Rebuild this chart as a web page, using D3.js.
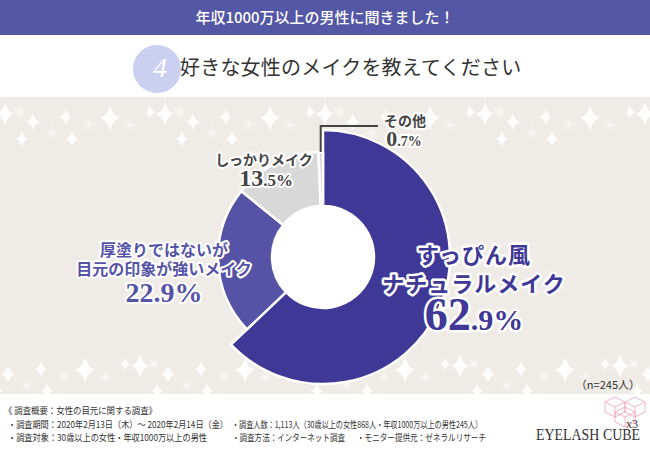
<!DOCTYPE html>
<html><head><meta charset="utf-8">
<script src="https://cdn.jsdelivr.net/npm/d3@7"></script>
<style>
html,body{margin:0;padding:0;background:#fff;}
svg{display:block;font-family:"Noto Sans CJK JP","Noto Sans",sans-serif;}
</style></head><body>
<svg id="chart" width="650" height="450"></svg>
<script>
// ---- data ----
const categories = ["すっぴん風ナチュラルメイク", "厚塗りではないが目元の印象が強いメイク", "しっかりメイク", "その他"];
const values = [62.9, 22.9, 13.5, 0.7];
const sampleNote = "（n=245人）";
const headerTitle = "年収1000万以上の男性に聞きました！";
const questionNo = "4";
const questionText = "好きな女性のメイクを教えてください";
const footerLines = [
  ["《 調査概要：女性の目元に関する調査》"],
  ["・調査期間：2020年2月13日（木）～ 2020年2月14日（金）", "・調査人数：1,113人（30歳以上の女性868人・年収1000万以上の男性245人）"],
  ["・調査対象：30歳以上の女性・年収1000万以上の男性", "・調査方法：インターネット調査", "・モニター提供元：ゼネラルリサーチ"]
];

// ---- styles ----
const colors = ["#3f3896", "#5653a6", "#d8d8d8", "#d8d8d8"];
const outerR = [127, 105, 105, 105];
const innerR = 51;
const cx = 323, cy = 257;
const SERIF = "'Liberation Serif','DejaVu Serif',serif";

const svg = d3.select("#chart");

// header
svg.append("rect").attr("x",0).attr("y",0).attr("width",650).attr("height",35).attr("fill","#5456a6");
svg.append("text").attr("x",325).attr("y",23).attr("text-anchor","middle")
  .attr("fill","#fff").attr("font-size",15).attr("font-weight",500).text(headerTitle);

// question
svg.append("ellipse").attr("cx",157).attr("cy",69).attr("rx",24).attr("ry",24)
  .attr("fill","#cbd0f1").attr("transform","rotate(-20,157,69)");
svg.append("text").attr("x",160).attr("y",77).attr("text-anchor","middle")
  .attr("fill","#fff").style("font-family",SERIF).attr("font-size",28)
  .attr("font-style","italic").text(questionNo);
svg.append("text").attr("x",180).attr("y",75)
  .attr("fill","#333").attr("font-size",20).attr("letter-spacing",0.2).text(questionText);

// background band
svg.append("rect").attr("x",0).attr("y",97).attr("width",650).attr("height",297).attr("fill","#efece8");

// sparkles (decoration)
const tile = [[5,114,12,"s"],[19,112,6,"a"],[33,122,9,"s"],[22,139,8,"s"],[52,133,6,"a"],[66,117,8,"s"],[72,139,8,"s"],[89,125,6,"a"],[110,118,13,"s"],[130,125,6,"a"],[150,112,7,"s"]];
const sp = svg.append("g").attr("fill","#fff").attr("stroke","#fff");
function star(g,x,y,s){
  const k=s*0.18;
  g.append("path").attr("stroke","none").attr("opacity",0.95)
   .attr("d",`M${x},${y-s}Q${x+k},${y-k} ${x+s*0.75},${y}Q${x+k},${y+k} ${x},${y+s}Q${x-k},${y+k} ${x-s*0.75},${y}Q${x-k},${y-k} ${x},${y-s}Z`);
}
function ast(g,x,y,s){
  for(let i=0;i<4;i++){
    const a=i*Math.PI/4;
    g.append("line").attr("x1",x-Math.cos(a)*s).attr("y1",y-Math.sin(a)*s)
      .attr("x2",x+Math.cos(a)*s).attr("y2",y+Math.sin(a)*s).attr("stroke-width",0.8).attr("opacity",0.9);
  }
}
[0,160,320,480,640].forEach(off=>{
  tile.forEach(t=>{
    const x=t[0]+off, y=t[1];
    if(t[3]==="s") star(sp,x,y,t[2]); else ast(sp,x,y,t[2]);
    const x2=t[0]+off-25, y2=t[1]+252;
    if(y2<392){ if(t[3]==="s") star(sp,x2,y2,t[2]); else ast(sp,x2,y2,t[2]); }
  });
});

// pie
const pie = d3.pie().sort(null).value(d=>d).startAngle(0).endAngle(2*Math.PI);
const arcs = pie(values);
const gPie = svg.append("g").attr("transform",`translate(${cx},${cy})`);
gPie.selectAll("path").data(arcs).join("path")
  .attr("d",(d,i)=>d3.arc().innerRadius(innerR).outerRadius(outerR[i])(d))
  .attr("fill",(d,i)=>colors[i])
  .attr("stroke","#fff").attr("stroke-width",2.5).attr("stroke-linejoin","round");
gPie.append("circle").attr("r",innerR).attr("fill","#fff");

// leader for その他
const oArc = arcs[3];
const midA = (oArc.startAngle+oArc.endAngle)/2;
const lx = cx + Math.sin(midA)*outerR[3];
const ly = cy - Math.cos(midA)*outerR[3];
svg.append("path").attr("d",`M${lx},${ly}V126H378`).attr("fill","none").attr("stroke","#444").attr("stroke-width",2);

// labels
function outlined(sel){
  return sel.attr("stroke","#fff").attr("stroke-linejoin","round").attr("paint-order","stroke");
}
function label(lines, x, y0, lh, size, fill, sw, ls){
  lines.forEach((t,i)=>{
    outlined(svg.append("text")).attr("x",x).attr("y",y0+i*lh).attr("text-anchor","middle")
      .attr("font-size",size).attr("font-weight",700).attr("fill",fill).attr("stroke-width",sw)
      .attr("letter-spacing",ls||0).text(t);
  });
}
function pct(v, x, y, big, small, fill, sw){
  const s = v.toFixed(1);
  const parts = s.split(".");
  const t = outlined(svg.append("text")).attr("x",x).attr("y",y).attr("text-anchor","middle")
    .style("font-family",SERIF).attr("font-weight",700).attr("fill",fill).attr("stroke-width",sw);
  t.append("tspan").attr("font-size",big).text(parts[0]);
  t.append("tspan").attr("font-size",small).text("."+parts[1]+"%");
}
label(["すっぴん風","ナチュラルメイク"], 474, 263, 29, 22, colors[0], 5, 1);
pct(values[0], 474, 330, 46, 30, colors[0], 5);

label(["厚塗りではないが","目元の印象が強いメイク"], 164, 256, 19, 16, colors[1], 4, 0);
pct(values[1], 164, 302, 28, 28, colors[1], 4);

label(["しっかりメイク"], 264, 165, 0, 14, "#444", 4, 0);
pct(values[2], 266, 186, 24, 17, "#444", 4);

label(["その他"], 405, 126, 0, 14, "#444", 4, 0);
pct(values[3], 404, 146, 22, 14, "#444", 4);

// n
svg.append("text").attr("x",640).attr("y",389).attr("text-anchor","end")
  .attr("fill","#333").attr("font-size",11).text(sampleNote);

// footer
const fx = [[4],[8,232],[8,232,357]];
const fw = [[153],[220,250],[199,113,129]];
const fy = [414,428,441];
footerLines.forEach((ln,r)=>{
  ln.forEach((t,c)=>{
    svg.append("text").attr("x",fx[r][c]).attr("y",fy[r]).attr("fill","#333")
      .attr("font-size",9.5).attr("textLength",fw[r][c]).attr("lengthAdjust","spacingAndGlyphs").text(t);
  });
});

// logo
const logo = svg.append("g").attr("fill","none").attr("stroke","#f0a9c2").attr("stroke-width",0.9);
function cube(x,y,s){
  const h=s*0.5;
  logo.append("path").attr("d",
    `M${x},${y-h}L${x+s},${y}L${x+s},${y+s}L${x},${y+s+h}L${x-s},${y+s}L${x-s},${y}Z` +
    `M${x-s},${y}L${x},${y+h}L${x+s},${y}M${x},${y+h}V${y+s+h}`);
}
cube(615,402,10); cube(635,402,10); cube(625,412,10);
svg.append("text").attr("x",640).attr("y",440).attr("text-anchor","end")
  .style("font-family",SERIF).attr("font-size",17).attr("fill","#333")
  .attr("textLength",104).attr("lengthAdjust","spacingAndGlyphs").text("EYELASH CUBE");
svg.append("text").attr("x",638).attr("y",428).attr("text-anchor","end")
  .style("font-family",SERIF).attr("font-size",12).attr("fill","#333").text("x3");
</script>
</body></html>
